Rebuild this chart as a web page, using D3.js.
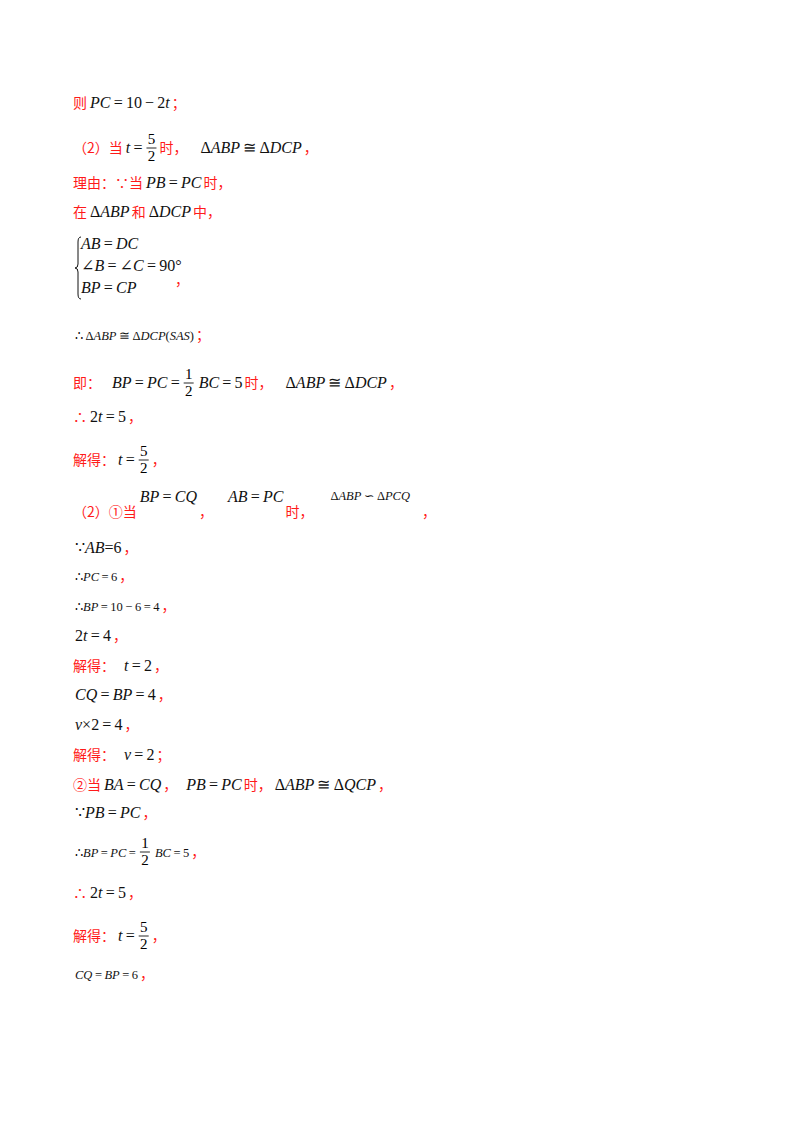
<!DOCTYPE html>
<html><head><meta charset="utf-8">
<script src="https://cdn.jsdelivr.net/npm/d3@7"></script>
<style>body{margin:0;background:#fff}</style></head>
<body><svg id="c" width="800" height="1132"></svg>
<script>
// Content lines: segments [kind, text]; r = red Chinese, m = math, s = small math, f = fraction "num/den", g = gap
const lines = [
  [["r","则"],["m","PC = 10 − 2t"],["r","；"]],
  [["r","（2）当"],["m","t ="],["f","5/2"],["r","时，"],["g","10"],["m","ΔABP ≅ ΔDCP"],["r","，"]],
  [["r","理由：∵当"],["m","PB = PC"],["r","时，"]],
  [["r","在"],["m","ΔABP"],["r","和"],["m","ΔDCP"],["r","中，"]],
  [["s","∴ ΔABP ≅ ΔDCP(SAS)"],["r","；"]],
  [["r","即："],["g","8"],["m","BP = PC ="],["f","1/2"],["m","BC = 5"],["r","时，"],["g","10"],["m","ΔABP ≅ ΔDCP"],["r","，"]],
  [["r","∴"],["m","2t = 5"],["r","，"]],
  [["r","解得："],["m","t ="],["f","5/2"],["r","，"]],
  [["m","∵AB=6"],["r","，"]],
  [["s","∴PC = 6"],["r","，"]],
  [["s","∴BP = 10 − 6 = 4"],["r","，"]],
  [["m","2t = 4"],["r","，"]],
  [["r","解得："],["g","6"],["m","t = 2"],["r","，"]],
  [["m","CQ = BP = 4"],["r","，"]],
  [["m","v×2 = 4"],["r","，"]],
  [["r","解得："],["g","6"],["m","v = 2"],["r","；"]],
  [["r","②当"],["m","BA = CQ"],["r","，"],["g","6"],["m","PB = PC"],["r","时，"],["m","ΔABP ≅ ΔQCP"],["r","，"]],
  [["m","∵PB = PC"],["r","，"]],
  [["s","∴BP = PC ="],["f","1/2"],["s","BC = 5"],["r","，"]],
  [["r","∴"],["m","2t = 5"],["r","，"]],
  [["r","解得："],["m","t ="],["f","5/2"],["r","，"]],
  [["s","CQ = BP = 6"],["r","，"]]
];
const lineY = [108,153,188,217,340,388,422,465,553,581,611,641,671,700,730,760,790,818,857,898,941,979];
const systemRows = ["AB = DC","∠B = ∠C = 90°","BP = CP"];
const systemY = [249,271,293];
const special = [["r","（2）①当",0],["m","BP = CQ",-15],["r","，",0],["g","12",0],["m","AB = PC",-15],["r","时，",0],["g","14",0],["s","ΔABP ∽ ΔPCQ",-17],["g","10",0],["r","，",0]];
const specialY = 517;

(function(){
const svg = d3.select("#c");
const X0 = 73;
const RED = "#ff1a1a";
const CJK = "'Noto Sans CJK SC', sans-serif";
const SERIF = "'Liberation Serif','DejaVu Serif',serif";

function mathText(g, x, y, str, size){
  const t = g.append("text").attr("x",x).attr("y",y).attr("font-family",SERIF).attr("font-size",size).attr("fill","#111");
  const runs = str.match(/[A-Za-z]+|[^A-Za-z]+/g) || [];
  runs.forEach(r=>{
    t.append("tspan").attr("font-style",/[A-Za-z]/.test(r)?"italic":"normal").text(r.replace(/ /g,"\u2009"));
  });
  return t.node().getComputedTextLength();
}
function drawSeg(g, x, y, seg, dy){
  const k = seg[0], txt = seg[1]; dy = dy||0;
  if(k==="g") return +txt;
  if(k==="r"){
    const t = g.append("text").attr("x",x).attr("y",y+dy).attr("font-family",CJK).attr("font-size",14).attr("fill",RED).text(txt);
    return t.node().getComputedTextLength()+1;
  }
  if(k==="m") return mathText(g,x+2,y+dy,txt,16)+4;
  if(k==="s") return mathText(g,x+2,y+dy,txt,12.5)+4;
  if(k==="f"){
    const [n,d] = txt.split("/");
    const w = 10;
    g.append("text").attr("x",x+2+w/2).attr("y",y-9).attr("text-anchor","middle").attr("font-family",SERIF).attr("font-size",15).text(n);
    g.append("text").attr("x",x+2+w/2).attr("y",y+8).attr("text-anchor","middle").attr("font-family",SERIF).attr("font-size",15).text(d);
    g.append("line").attr("x1",x+2).attr("x2",x+2+w).attr("y1",y-5).attr("y2",y-5).attr("stroke","#111").attr("stroke-width",0.9);
    return w+5;
  }
  return 0;
}
const g = svg.append("g");
lines.forEach((ln,i)=>{
  let x = X0;
  ln.forEach(s=>{ x += drawSeg(g,x,lineY[i],s); });
});
{ let x = X0; special.forEach(s=>{ x += drawSeg(g,x,specialY,s,s[2]); }); }
const yS = d3.scaleLinear().domain([0,systemRows.length-1]).range([systemY[0],systemY[systemY.length-1]]);
systemRows.forEach((r,i)=>mathText(g,X0+8,yS(i),r,16));
const bTop=237, bBot=299, mid=(bTop+bBot)/2, bx=X0+5;
g.append("path").attr("d",`M${bx+3},${bTop} Q${bx},${bTop} ${bx},${bTop+5} L${bx},${mid-4} Q${bx},${mid} ${bx-3},${mid} Q${bx},${mid} ${bx},${mid+4} L${bx},${bBot-5} Q${bx},${bBot} ${bx+3},${bBot}`)
  .attr("fill","none").attr("stroke","#111").attr("stroke-width",1);
g.append("text").attr("x",175).attr("y",285).attr("font-family",CJK).attr("font-size",14).attr("fill",RED).text("，");
})();
</script></body></html>
